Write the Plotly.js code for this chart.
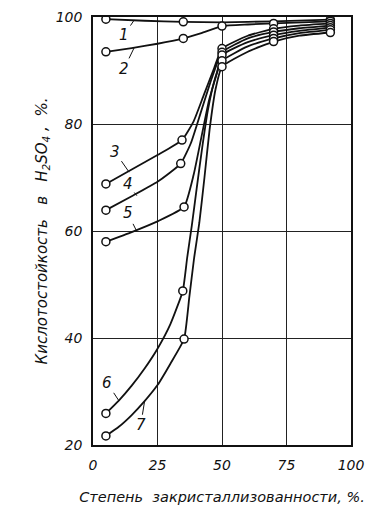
<!DOCTYPE html>
<html>
<head>
<meta charset="utf-8">
<script src="https://cdn.plot.ly/plotly-3.0.1.min.js"></script>
<style>html,body{margin:0;padding:0;background:#fff;}#chart{width:391px;height:516px;}</style>
</head>
<body>
<div id="chart"></div>
<script>
// Curve labels
const curveNames = ["1", "2", "3", "4", "5", "6", "7"];

const markX1 = [5, 35, 92];            const markY1 = [99.6, 99.1, 99.5];
const markX2 = [5, 35, 50, 70, 92];    const markY2 = [93.5, 96.0, 98.3, 98.8, 99.2];
const markX3 = [5, 34.5, 50, 70, 92];  const markY3 = [68.8, 77.0, 94.1, 97.8, 98.8];
const markX4 = [5, 34, 50, 70, 92];    const markY4 = [63.9, 72.6, 93.4, 97.2, 98.4];
const markX5 = [5, 35.3, 50, 70, 92];  const markY5 = [58.0, 64.5, 92.9, 96.6, 98.0];
const markX6 = [5, 34.8, 50, 70, 92];  const markY6 = [25.9, 48.8, 91.8, 96.0, 97.6];
const markX7 = [5, 35.3, 50, 70, 92];  const markY7 = [21.7, 39.8, 90.7, 95.4, 97.1];

// Curve paths
const lineX1 = [5, 20, 35, 50, 70, 92];
const lineY1 = [99.6, 99.3, 99.1, 99.0, 99.2, 99.5];
const lineX2 = [5, 15, 25, 35, 42, 50, 60, 70, 92];
const lineY2 = [93.5, 94.2, 95.0, 96.0, 97.0, 98.3, 98.6, 98.8, 99.2];
const lineX3 = [5, 15, 25, 34.5, 39, 43, 47, 50, 60, 70, 80, 92];
const lineY3 = [68.8, 71.5, 74.2, 77.0, 80.5, 85.5, 90.5, 94.1, 96.5, 97.8, 98.4, 98.8];
const lineX4 = [5, 15, 25, 34, 38, 42, 46, 50, 60, 70, 80, 92];
const lineY4 = [63.9, 66.5, 69.2, 72.6, 76.5, 82.5, 88.5, 93.4, 96.0, 97.2, 97.9, 98.4];
const lineX5 = [5, 15, 25, 35.3, 39, 42, 45, 48, 50, 60, 70, 80, 92];
const lineY5 = [58.0, 59.8, 61.8, 64.5, 70.5, 77.5, 84.5, 89.5, 92.9, 95.3, 96.6, 97.4, 98.0];
const lineX6 = [5, 10, 15, 20, 25, 30, 34.8, 36.5, 38.3, 40.2, 42.3, 44.5, 47, 50, 60, 70, 80, 92];
const lineY6 = [25.9, 28.3, 31.1, 34.3, 38.0, 42.6, 48.8, 55.0, 61.0, 68.0, 75.5, 82.5, 88.0, 91.8, 94.5, 96.0, 97.0, 97.6];
const lineX7 = [5, 10, 15, 20, 25, 30, 35.3, 37.3, 39.2, 41.2, 43.2, 45.2, 47.5, 50, 60, 70, 80, 92];
const lineY7 = [21.7, 23.4, 25.6, 28.2, 31.2, 35.2, 39.8, 47.5, 55.0, 61.5, 70.0, 79.0, 86.5, 90.7, 93.5, 95.4, 96.5, 97.1];

// Label anchor on curve and label positions
const labelCurveX = [16, 16, 14, 17, 17, 10, 20];
const labelCurveY = [99.45, 94.3, 71.0, 66.6, 59.9, 28.3, 28.2];
const labelTextX  = [12, 12, 8.5, 13.5, 13.5, 5.5, 18.5];
const labelTextY  = [96.6, 90.3, 74.8, 68.7, 63.3, 31.6, 23.7];

// Axis ticks
const xTicks = [0, 25, 50, 75, 100];
const yTicks = [20, 40, 60, 80, 100];

const markXs = [markX1, markX2, markX3, markX4, markX5, markX6, markX7];
const markYs = [markY1, markY2, markY3, markY4, markY5, markY6, markY7];
const lineXs = [lineX1, lineX2, lineX3, lineX4, lineX5, lineX6, lineX7];
const lineYs = [lineY1, lineY2, lineY3, lineY4, lineY5, lineY6, lineY7];

const traces = [];
for (let i = 0; i < curveNames.length; i++) {
  traces.push({x: lineXs[i], y: lineYs[i], mode: 'lines', type: 'scatter',
    line: {color: '#111', width: 1.8, shape: 'spline', smoothing: 0.45},
    hoverinfo: 'skip', showlegend: false});
}
for (let i = 0; i < curveNames.length; i++) {
  traces.push({x: markXs[i], y: markYs[i], mode: 'markers', type: 'scatter',
    marker: {symbol: 'circle', size: 8, color: '#fff', line: {color: '#111', width: 1.5}},
    name: curveNames[i], showlegend: false});
}

const annotations = [];
for (let i = 0; i < curveNames.length; i++) {
  annotations.push({x: labelCurveX[i], y: labelCurveY[i], xref: 'x', yref: 'y',
    axref: 'x', ayref: 'y', ax: labelTextX[i], ay: labelTextY[i],
    text: '<i>' + curveNames[i] + '</i>', showarrow: true, arrowhead: 0, arrowwidth: 1,
    arrowcolor: '#111', standoff: 0, startstandoff: 0,
    font: {family: 'DejaVu Sans', size: 15, color: '#111'}});
}

const tickFont = {family: 'DejaVu Sans', size: 14, color: '#111'};
const layout = {
  width: 391, height: 516,
  margin: {l: 93, r: 40, t: 17, b: 71},
  paper_bgcolor: '#fff', plot_bgcolor: '#fff',
  showlegend: false,
  xaxis: {range: [0, 100], tickvals: xTicks, ticktext: xTicks.map(v => '<i>' + v + '</i>'),
    showgrid: true, gridcolor: '#222', gridwidth: 1, zeroline: false, automargin: false,
    showline: true, linecolor: '#111', linewidth: 1.8, mirror: true,
    ticks: '', tickfont: tickFont, ticklabelstandoff: 6,
    title: {text: '<i>Степень  закристаллизованности, %.</i>', font: {family: 'DejaVu Sans', size: 14.5, color: '#111'}, standoff: 20}},
  yaxis: {range: [20, 100], tickvals: yTicks, ticktext: yTicks.map(v => '<i>' + v + '</i>'),
    showgrid: true, gridcolor: '#222', gridwidth: 1, zeroline: false, automargin: false,
    showline: true, linecolor: '#111', linewidth: 1.8, mirror: true,
    ticks: '', tickfont: tickFont, ticklabelstandoff: 6,
    title: {text: '<i>Кислотостойкость   в   H<sub>2</sub>SO<sub>4</sub> ,  %.</i>', font: {family: 'DejaVu Sans', size: 15, color: '#111'}, standoff: 4}},
  annotations: annotations
};

Plotly.newPlot('chart', traces, layout, {staticPlot: true, displayModeBar: false});
</script>
</body>
</html>
